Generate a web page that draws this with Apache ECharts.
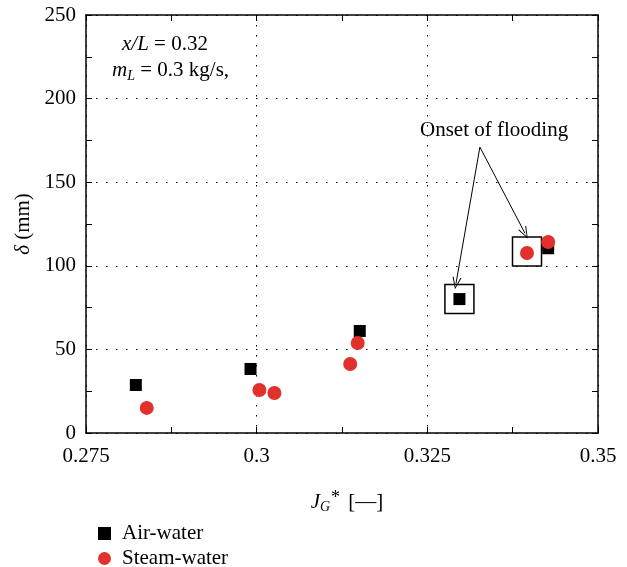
<!DOCTYPE html>
<html>
<head>
<meta charset="utf-8">
<script src="https://cdn.jsdelivr.net/npm/echarts@6/dist/echarts.min.js"></script>
<style>html,body{margin:0;padding:0;background:#fff}#c{width:627px;height:567px}</style>
</head>
<body>
<div id="c"></div>
<script>
// Data
var airX = [0.2823, 0.2991, 0.3151, 0.3297, 0.3427];
var airY = [28.7, 38.3, 61, 80.1, 110.5];
var steamX = [0.2839, 0.3004, 0.3026, 0.3137, 0.3148, 0.3396, 0.3427];
var steamY = [15, 25.7, 23.9, 41.3, 53.8, 107.7, 114.2];
// onset of flooding boxes
var floodX = [0.3297, 0.3396];
var floodY = [80.1, 108.6];
// arrow start and tips
var arrowFrom = [0.3327, 171];
var arrowTips = [[0.3292, 89.5], [0.3393, 119.5]];
var xTicks = [0.275, 0.3, 0.325, 0.35];
var yTicks = [0, 50, 100, 150, 200, 250];

var FONT = '"Liberation Serif", "DejaVu Serif", serif';
var FS = 21;
var chart = echarts.init(document.getElementById('c'), null, {renderer: 'canvas'});

function pairs(xs, ys) { return xs.map(function (x, i) { return [x, ys[i]]; }); }

var dotted = {show: true, lineStyle: {color: '#000', width: 1, type: [1.5, 8.5]}};
var common = {
  axisLine: {show: true, onZero: false, lineStyle: {color: '#000', width: 1.5}},
  axisTick: {show: true, inside: true, length: 6, lineStyle: {color: '#000', width: 1}},
  minorTick: {show: true, splitNumber: 2, length: 6, lineStyle: {color: '#000', width: 1}}
};
function ax(extra) { return Object.assign({}, JSON.parse(JSON.stringify(common)), extra); }

var openArrow = 'path://M5,0 L10,12 L8.8,12 L5,2.4 L1.2,12 L0,12 Z';

var option = {
  animation: false,
  backgroundColor: '#fff',
  textStyle: {fontFamily: FONT},
  grid: {left: 86, top: 15, right: 29, bottom: 134, containLabel: false},
  xAxis: [
    ax({type: 'value', position: 'bottom', min: xTicks[0], max: xTicks[xTicks.length - 1], interval: 0.025,
      splitLine: dotted,
      axisLabel: {color: '#000', fontFamily: FONT, fontSize: FS, margin: 13,
        formatter: function (v) { return String(+v.toFixed(4)); }},
      name: '{i|J}{sub|G}{sup|*} [—]', nameLocation: 'middle', nameGap: 56,
      nameTextStyle: {color: '#000', fontFamily: FONT, fontSize: FS, padding: [0, 0, 0, 10],
        rich: {
          i: {fontStyle: 'italic', fontFamily: FONT, fontSize: FS, color: '#000'},
          sub: {fontStyle: 'italic', fontFamily: FONT, fontSize: 14, color: '#000', padding: [11, 0, 0, 0]},
          sup: {fontFamily: FONT, fontSize: 18, color: '#000', padding: [0, 3, 8, 1]}
        }}
    }),
    ax({type: 'value', position: 'top', min: xTicks[0], max: xTicks[xTicks.length - 1], interval: 0.025,
      splitLine: {show: false}, axisLabel: {show: false}})
  ],
  yAxis: [
    ax({type: 'value', position: 'left', min: yTicks[0], max: yTicks[yTicks.length - 1], interval: 50,
      splitLine: dotted,
      axisLabel: {color: '#000', fontFamily: FONT, fontSize: FS, margin: 10},
      name: '{i|δ} (mm)', nameLocation: 'middle', nameGap: 50, nameRotate: 90,
      nameTextStyle: {color: '#000', fontFamily: FONT, fontSize: FS,
        rich: {i: {fontStyle: 'italic', fontFamily: FONT, fontSize: FS, color: '#000'}}}
    }),
    ax({type: 'value', position: 'right', min: yTicks[0], max: yTicks[yTicks.length - 1], interval: 50,
      splitLine: {show: false}, axisLabel: {show: false}})
  ],
  legend: {
    orient: 'vertical', left: 93, top: 518, height: 70, itemGap: 4, itemWidth: 13, itemHeight: 13,
    textStyle: {color: '#000', fontFamily: FONT, fontSize: FS, lineHeight: 21, padding: [0, 0, 0, 6]},
    data: [{name: 'Air-water', icon: 'rect'}, {name: 'Steam-water', icon: 'circle'}]
  },
  series: [
    {
      name: 'Air-water', type: 'scatter', symbol: 'rect', symbolSize: 12,
      itemStyle: {color: '#000', opacity: 1}, data: pairs(airX, airY), z: 3
    },
    {
      name: 'Steam-water', type: 'scatter', symbol: 'circle', symbolSize: 14,
      itemStyle: {color: '#e2312d', opacity: 1}, data: pairs(steamX, steamY), z: 4
    },
    {
      name: 'flood', type: 'scatter', symbol: 'rect', symbolSize: 29, silent: true,
      itemStyle: {color: 'rgba(0,0,0,0)', borderColor: '#000', borderWidth: 1.5, opacity: 1},
      data: pairs(floodX, floodY), z: 2,
      markLine: {
        silent: true, symbol: ['none', openArrow], symbolSize: [9, 12],
        label: {show: false},
        lineStyle: {color: '#000', width: 1, type: 'solid'},
        data: arrowTips.map(function (t) {
          return [{coord: arrowFrom}, {coord: t}];
        })
      }
    }
  ],
  graphic: [
    {type: 'text', left: 420, top: 120, style: {text: 'Onset of flooding', fill: '#000', font: FS + 'px ' + FONT}},
    {type: 'text', left: 122, top: 34, style: {
      text: '{i|x/L} = 0.32', fill: '#000', font: FS + 'px ' + FONT,
      rich: {i: {fontStyle: 'italic', fontFamily: FONT, fontSize: FS}}}},
    {type: 'text', left: 112, top: 60, style: {
      text: '{i|m}{sub|L} = 0.3 kg/s,', fill: '#000', font: FS + 'px ' + FONT,
      rich: {i: {fontStyle: 'italic', fontFamily: FONT, fontSize: FS},
             sub: {fontStyle: 'italic', fontFamily: FONT, fontSize: 14, padding: [11, 0, 0, 0]}}}}
  ]
};
chart.setOption(option);
</script>
</body>
</html>
